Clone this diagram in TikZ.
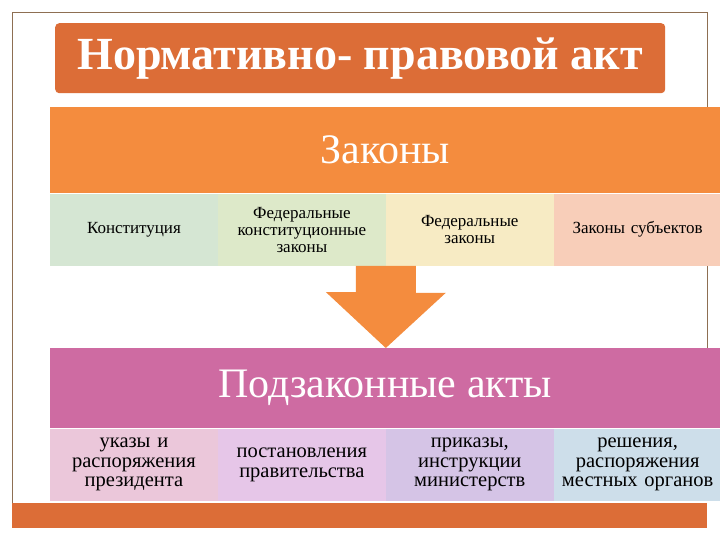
\documentclass[tikz,border=0pt]{standalone}
\usepackage{fontspec}
\setmainfont{Liberation Serif}
\usetikzlibrary{positioning}

\definecolor{titlefill}{HTML}{DC6D37}
\definecolor{lawfill}{HTML}{F48C3E}
\definecolor{subfill}{HTML}{CE6BA2}
\definecolor{framecol}{HTML}{8E6F52}
\definecolor{lawA}{HTML}{D5E6D3}
\definecolor{lawB}{HTML}{DDE9C9}
\definecolor{lawC}{HTML}{F7EBC4}
\definecolor{lawD}{HTML}{F8CEB9}
\definecolor{subA}{HTML}{EBC7DA}
\definecolor{subB}{HTML}{E6C6E8}
\definecolor{subC}{HTML}{D5C4E6}
\definecolor{subD}{HTML}{CDDEEA}

\begin{document}
\begin{tikzpicture}[x=1pt, y=-1pt,
    band/.style={anchor=north west, inner sep=0pt, minimum width=670pt, text=white,
      font=\fontsize{42}{44}\selectfont},
    lawcell/.style={inner sep=0pt, minimum width=167.5pt, minimum height=72pt,
      text width=165pt, align=center, font=\fontsize{17}{17}\selectfont},
    subcell/.style={lawcell, font=\fontsize{20.5}{19.5}\selectfont}]
    \useasboundingbox (0,0) rectangle (720,540);
    \fill[white] (0,0) rectangle (720,540);

    % frame and bottom bar
    \draw[framecol, thin] (12,503) -- (12,12) -- (707,12) -- (707,107);
    \draw[framecol, thin] (707,265) -- (707,348);
    \fill[titlefill] (12,503) rectangle (707,528);

    % title
    \node[fill=titlefill, rounded corners=4pt, anchor=north west, inner sep=0pt,
      minimum width=610pt, minimum height=70pt, text=white,
      font=\fontsize{46}{48}\selectfont\bfseries] (title) at (55,23) {Нормативно- правовой акт};

    % laws
    \node[band, fill=lawfill, minimum height=86pt] (laws) at (50,107) {Законы};
    \node[lawcell, fill=lawA, anchor=north west] (konst) at (laws.south west) {Конституция};
    \node[lawcell, fill=lawB, right=0pt of konst] (fkz) {Федеральные\\конституционные\\законы};
    \node[lawcell, fill=lawC, right=0pt of fkz] (fz) {Федеральные\\законы};
    \node[lawcell, fill=lawD, right=0pt of fz] (zs) {Законы субъектов};

    % by-laws
    \node[band, fill=subfill, minimum height=80pt] (sub) at (50,348) {Подзаконные акты};
    \node[subcell, fill=subA, anchor=north west] (ukazy) at (sub.south west) {указы и\\распоряжения\\президента};
    \node[subcell, fill=subB, right=0pt of ukazy] (post) {постановления\\правительства};
    \node[subcell, fill=subC, right=0pt of post] (prik) {приказы,\\инструкции\\министерств};
    \node[subcell, fill=subD, right=0pt of prik] (resh) {решения,\\распоряжения\\местных органов};

    % block arrow
    \fill[lawfill] (fkz.south east) ++(-30,0) -- ++(60,0) -- ++(0,27) -- ++(30,0)
      -- (sub.north -| fkz.south east) -- ++(-60,-56) -- ++(30,0) -- cycle;
  \end{tikzpicture}
\end{document}
